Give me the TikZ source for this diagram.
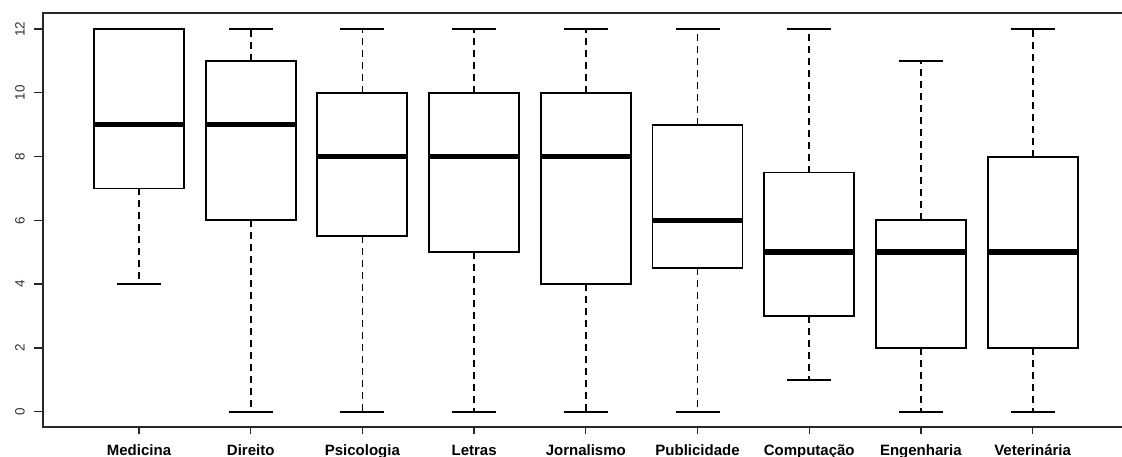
\documentclass[tikz,border=0pt]{standalone}
\usepackage{fontspec}
\setmainfont{Liberation Sans}
\begin{document}
\begin{tikzpicture}[x=1pt,y=-1pt,
  boxline/.style={line width=1.9pt},
  whisk/.style={line width=1.8pt, dash pattern=on 7pt off 5pt},
  medline/.style={line width=5.5pt},
  axisline/.style={line width=1.3pt, black!85},
  ticklab/.style={font=\fontsize{13.5}{13.5}\selectfont, text=black!80, rotate=90, inner sep=0pt},
  catlab/.style={font=\bfseries\fontsize{15}{15}\selectfont, anchor=base, inner sep=0pt},
]
\useasboundingbox (0,0) rectangle (1122,457);
% frame (right edge lies outside the picture)
\coordinate (tl) at (43,13);
\coordinate (bl) at (43,427);
\coordinate (tr) at (1122,13);
\coordinate (br) at (1122,427);
\draw[axisline] (tr) -- (tl) -- (bl) -- (br);
% y axis
\foreach \v in {0,2,...,12} {
  \pgfmathsetmacro\yy{411.7-31.89*\v}
  \coordinate (yt\v) at (43,\yy);
  \coordinate (ye\v) at (34,\yy);
  \draw[axisline] (yt\v) -- (ye\v);
  \node[ticklab] (yl\v) at (20,\yy) {\v};
}
% boxes
\foreach \i/\name/\lo/\qa/\me/\qb/\hi in {
  1/Medicina/4/7/9/12/12,
  2/Direito/0/6/9/11/12,
  3/Psicologia/0/5.5/8/10/12,
  4/Letras/0/5/8/10/12,
  5/Jornalismo/0/4/8/10/12,
  6/Publicidade/0/4.5/6/9/12,
  7/Computação/1/3/5/7.5/12,
  8/Engenharia/0/2/5/6/11,
  9/Veterinária/0/2/5/8/12} {
  \pgfmathsetmacro\cx{139+111.7*(\i-1)}
  \pgfmathsetmacro\ylo{411.7-31.89*\lo}
  \pgfmathsetmacro\yqa{411.7-31.89*\qa}
  \pgfmathsetmacro\yme{411.7-31.89*\me}
  \pgfmathsetmacro\yqb{411.7-31.89*\qb}
  \pgfmathsetmacro\yhi{411.7-31.89*\hi}
  \coordinate (lo\i) at (\cx,\ylo);
  \coordinate (hi\i) at (\cx,\yhi);
  \coordinate (qa\i) at (\cx,\yqa);
  \coordinate (qb\i) at (\cx,\yqb);
  \draw[whisk] (qb\i) -- (hi\i);
  \draw[whisk] (qa\i) -- (lo\i);
  \draw[boxline] ([xshift=-22pt]hi\i) -- ([xshift=22pt]hi\i);
  \draw[boxline] ([xshift=-22pt]lo\i) -- ([xshift=22pt]lo\i);
  \draw[boxline, fill=white] ([xshift=-45pt]qa\i) rectangle ([xshift=45pt]qb\i);
  \draw[medline] (\cx-44.5,\yme) -- (\cx+44.5,\yme);
  \coordinate (xt\i) at (\cx,427);
  \coordinate (xe\i) at (\cx,434);
  \draw[axisline] (xt\i) -- (xe\i);
  \node[catlab] (lab\i) at (\cx,455) {\name};
}
\end{tikzpicture}
\end{document}
